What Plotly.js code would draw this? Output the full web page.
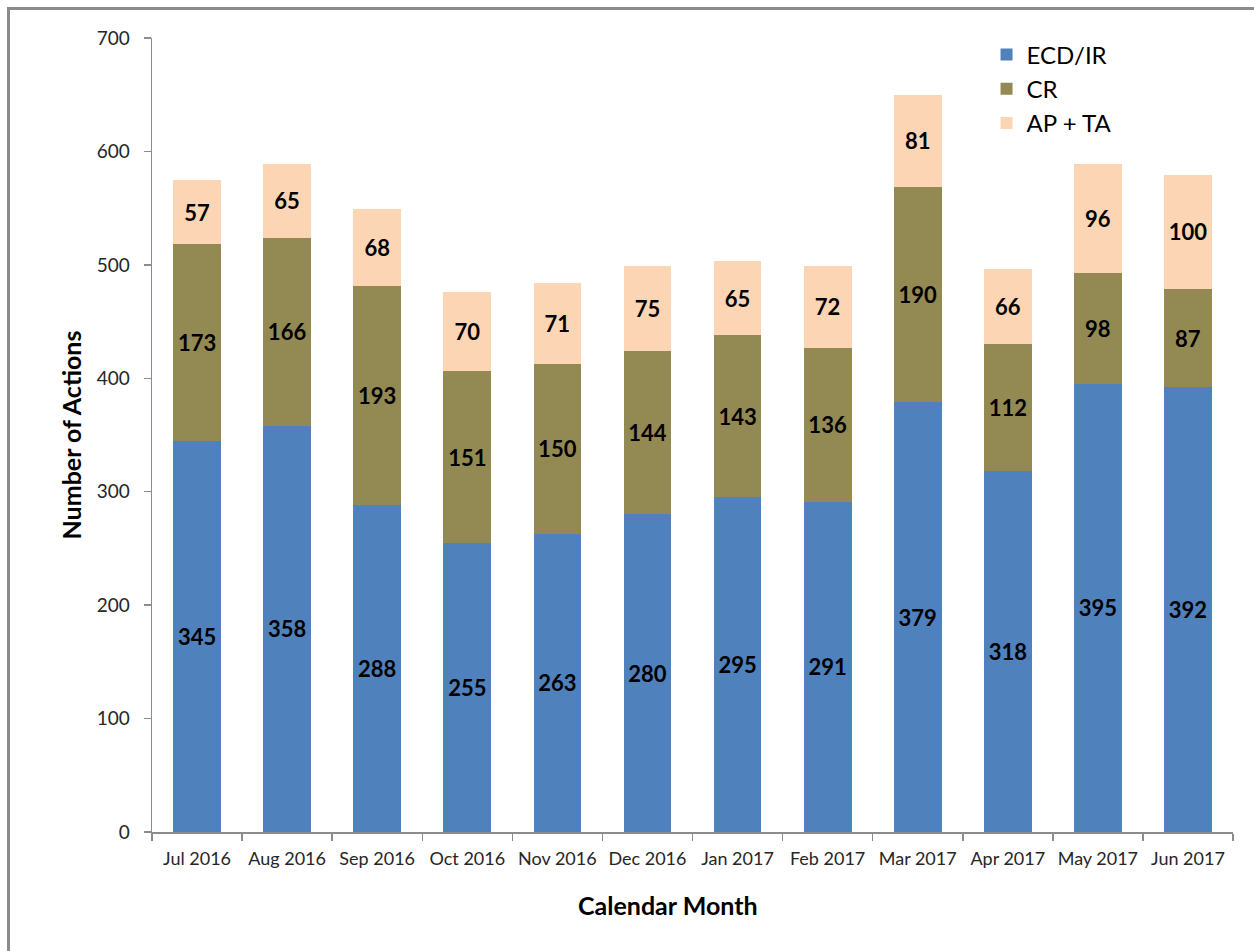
<!DOCTYPE html>
<html>
<head>
<meta charset="utf-8">
<script src="https://cdn.plot.ly/plotly-3.0.1.min.js"></script>
<style>
  html, body { margin: 0; padding: 0; background: #fff; overflow: hidden; }
  #chart { position: absolute; left: 0; top: 0; width: 1254px; height: 951px; }
  #frame { position: absolute; left: 7px; top: 7px; width: 1270px; height: 970px;
           border: 3px solid #8c8c8c; pointer-events: none; box-sizing: border-box; }
</style>
</head>
<body>
<div id="chart"></div>
<div id="frame"></div>
<script>
const months = ["Jul 2016","Aug 2016","Sep 2016","Oct 2016","Nov 2016","Dec 2016",
                "Jan 2017","Feb 2017","Mar 2017","Apr 2017","May 2017","Jun 2017"];
const ecdIr = [345,358,288,255,263,280,295,291,379,318,395,392];
const cr    = [173,166,193,151,150,144,143,136,190,112,98,87];
const apTa  = [57,65,68,70,71,75,65,72,81,66,96,100];
const seriesNames = ["ECD/IR","CR","AP + TA"];
const yTicks = [0,100,200,300,400,500,600,700];

const FONT = "Lato, 'Open Sans', sans-serif";
const colors = ["#4F81BD","#938953","#FCD5B5"];
const seriesData = [ecdIr, cr, apTa];

const traces = seriesData.map((vals, i) => ({
  type: "bar",
  name: seriesNames[i],
  x: months,
  y: vals,
  text: vals.map(String),
  textposition: "inside",
  insidetextanchor: "middle",
  constraintext: "none",
  textfont: { family: FONT, size: 22, color: "#000", weight: "bold" },
  marker: { color: colors[i], line: { width: 0 } },
  hoverinfo: "x+y+name"
}));

const layout = {
  width: 1254, height: 951,
  barmode: "stack",
  bargap: 0.47,
  paper_bgcolor: "#fff",
  plot_bgcolor: "#fff",
  margin: { l: 152, r: 21, t: 38, b: 119 },
  font: { family: FONT, color: "#262626" },
  showlegend: true,
  legend: {
    x: 0.772, y: 1.007, xanchor: "left", yanchor: "top",
    traceorder: "normal",
    font: { family: FONT, size: 24, color: "#000" },
    bgcolor: "rgba(0,0,0,0)",
    tracegroupgap: 0,
    itemwidth: 30,
    tracegroupgap: 0
  },
  xaxis: {
    type: "category",
    tickson: "boundaries",
    tickangle: 0,
    ticks: "outside", ticklen: 7, tickcolor: "#8c8c8c", tickwidth: 1.5,
    showline: true, linecolor: "#8c8c8c", linewidth: 1.5,
    showgrid: false, zeroline: false,
    tickfont: { family: FONT, size: 18, color: "#262626" },
    ticklabelstandoff: 10,
    title: { text: "" }
  },
  yaxis: {
    range: [0, 700],
    tickvals: yTicks,
    ticktext: yTicks.map(String),
    ticks: "outside", ticklen: 7, tickcolor: "#8c8c8c", tickwidth: 1.5,
    showline: true, linecolor: "#8c8c8c", linewidth: 1.5,
    showgrid: false, zeroline: false,
    tickfont: { family: FONT, size: 19, color: "#262626" },
    ticklabelstandoff: 10,
    title: { text: "<b>Number of Actions</b>", font: { family: FONT, size: 25, color: "#000" }, standoff: 8 }
  },
  annotations: [{
    text: "<b>Calendar Month</b>",
    xref: "paper", yref: "paper",
    x: (668 - 152) / 1081, y: -(905 - 832) / 794,
    xanchor: "center", yanchor: "middle",
    showarrow: false,
    font: { family: FONT, size: 25, color: "#000" }
  }]
};

Plotly.newPlot("chart", traces, layout, { displayModeBar: false, staticPlot: true });
</script>
</body>
</html>
